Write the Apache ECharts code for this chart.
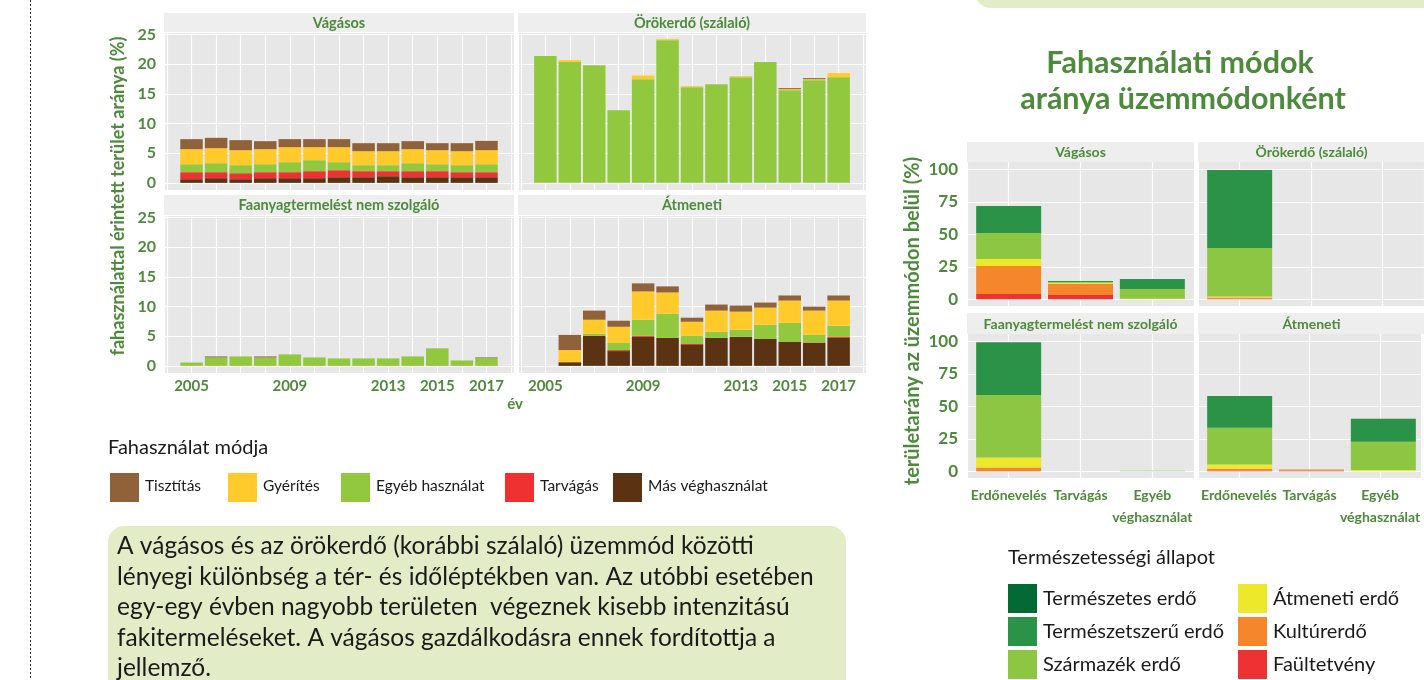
<!DOCTYPE html>
<html>
<head>
    <meta charset="utf-8">
    <title>Fahasználati módok</title>
    <script src="https://cdn.jsdelivr.net/npm/echarts@6/dist/echarts.min.js"></script>
    <style>
        html, body { margin: 0; padding: 0; background: #fff; }
        #chart { width: 1424px; height: 680px; }
    </style>
</head>
<body>
<div id="chart"></div>
<script>
    // ---- bal oldali ábra: fahasználattal érintett terület aránya (%) ----
    var years = [2005, 2006, 2007, 2008, 2009, 2010, 2011, 2012, 2013, 2014, 2015, 2016, 2017];
    var yearTicks = [2005, 2009, 2013, 2015, 2017];
    var panelNames = ['Vágásos', 'Örökerdő (szálaló)', 'Faanyagtermelést nem szolgáló', 'Átmeneti'];
    // rétegek alulról felfelé
    var modeNames = ['Más véghasználat', 'Tarvágás', 'Egyéb használat', 'Gyérítés', 'Tisztítás'];
    var legendOrder = ['Tisztítás', 'Gyérítés', 'Egyéb használat', 'Tarvágás', 'Más véghasználat'];

    var vagasosMas = [0.62, 0.79, 0.62, 0.79, 0.79, 0.79, 0.95, 0.95, 1.12, 0.95, 0.95, 0.95, 0.95];
    var vagasosTarvagas = [1.18, 1.01, 1.01, 1.01, 1.01, 1.18, 1.18, 1.02, 0.85, 1.02, 1.02, 0.85, 0.85];
    var vagasosEgyeb = [1.34, 1.51, 1.35, 1.34, 1.68, 1.85, 1.35, 1.01, 1.01, 1.34, 1.17, 1.18, 1.34];
    var vagasosGyerites = [2.53, 2.53, 2.52, 2.53, 2.53, 2.19, 2.53, 2.35, 2.35, 2.36, 2.36, 2.35, 2.36];
    var vagasosTisztitas = [1.69, 1.74, 1.69, 1.35, 1.35, 1.35, 1.35, 1.35, 1.35, 1.35, 1.18, 1.35, 1.57];

    var orokMas = [0, 0, 0, 0, 0, 0, 0, 0, 0, 0, 0, 0, 0];
    var orokTarvagas = [0, 0, 0, 0, 0, 0, 0, 0, 0, 0, 0, 0, 0];
    var orokEgyeb = [21.34, 20.33, 19.82, 12.24, 17.46, 24.03, 16.11, 16.62, 17.80, 20.33, 15.61, 17.29, 17.80];
    var orokGyerites = [0, 0.33, 0, 0, 0.62, 0.17, 0.17, 0, 0.17, 0, 0.17, 0.17, 0.67];
    var orokTisztitas = [0, 0, 0, 0, 0, 0, 0, 0, 0, 0, 0.17, 0.17, 0];

    var faanyagMas = [0, 0, 0, 0, 0, 0, 0, 0, 0, 0, 0, 0, 0];
    var faanyagTarvagas = [0, 0, 0, 0, 0, 0, 0, 0, 0, 0, 0, 0, 0];
    var faanyagEgyeb = [0.57, 1.42, 1.59, 1.42, 1.93, 1.42, 1.25, 1.25, 1.25, 1.59, 2.95, 0.91, 1.30];
    var faanyagGyerites = [0, 0, 0, 0, 0, 0, 0, 0, 0, 0, 0, 0, 0];
    var faanyagTisztitas = [0, 0.17, 0, 0.17, 0, 0, 0, 0, 0, 0, 0, 0, 0.12];

    var atmenetiMas = [null, 0.62, 5.05, 2.49, 4.88, 4.71, 3.51, 4.71, 4.88, 4.54, 4.02, 3.85, 4.71];
    var atmenetiTarvagas = [null, 0, 0, 0.17, 0.17, 0, 0.17, 0, 0, 0, 0, 0.1, 0.17];
    var atmenetiEgyeb = [null, 0, 0.34, 1.19, 2.72, 4.08, 1.37, 1.02, 1.19, 2.38, 3.24, 1.27, 1.87];
    var atmenetiGyerites = [null, 2.04, 2.38, 2.73, 4.76, 3.57, 2.38, 3.57, 3.06, 2.89, 3.74, 4.08, 4.25];
    var atmenetiTisztitas = [null, 2.55, 1.53, 1.02, 1.36, 1.02, 0.68, 1.02, 1.02, 0.85, 0.85, 0.68, 0.85];

    // ---- jobb oldali ábra: területarány az üzemmódon belül (%) ----
    var useCats = ['Erdőnevelés', 'Tarvágás', 'Egyéb\nvéghasználat'];
    // rétegek alulról felfelé
    var stateNames = ['Faültetvény', 'Kultúrerdő', 'Átmeneti erdő', 'Származék erdő', 'Természetszerű erdő', 'Természetes erdő'];
    var legendStates = ['Természetes erdő', 'Természetszerű erdő', 'Származék erdő', 'Átmeneti erdő', 'Kultúrerdő', 'Faültetvény'];

    var rVagFaultetveny = [4.1, 3.3, 0];
    var rVagKultur = [21.5, 8.5, 0];
    var rVagAtmeneti = [5.4, 0.8, 0.4];
    var rVagSzarmazek = [20.0, 0.7, 7.5];
    var rVagTermszeru = [20.8, 0.8, 7.7];
    var rVagTermeszetes = [0, 0, 0];

    var rOrokFaultetveny = [0.3, 0, 0];
    var rOrokKultur = [1.0, 0, 0];
    var rOrokAtmeneti = [0.8, 0, 0];
    var rOrokSzarmazek = [37.4, 0, 0];
    var rOrokTermszeru = [60.0, 0, 0];
    var rOrokTermeszetes = [0, 0, 0];

    var rFaFaultetveny = [0, 0, 0];
    var rFaKultur = [2.8, 0, 0];
    var rFaAtmeneti = [7.7, 0, 0];
    var rFaSzarmazek = [48.2, 0, 0.4];
    var rFaTermszeru = [40.5, 0, 0];
    var rFaTermeszetes = [0, 0, 0];

    var rAtmFaultetveny = [0.5, 0.3, 0];
    var rAtmKultur = [1.5, 1.0, 0];
    var rAtmAtmeneti = [3.1, 0, 1.0];
    var rAtmSzarmazek = [28.3, 0, 21.7];
    var rAtmTermszeru = [24.5, 0, 17.6];
    var rAtmTermeszetes = [0, 0, 0];

    var leftData = [
        [vagasosMas, vagasosTarvagas, vagasosEgyeb, vagasosGyerites, vagasosTisztitas],
        [orokMas, orokTarvagas, orokEgyeb, orokGyerites, orokTisztitas],
        [faanyagMas, faanyagTarvagas, faanyagEgyeb, faanyagGyerites, faanyagTisztitas],
        [atmenetiMas, atmenetiTarvagas, atmenetiEgyeb, atmenetiGyerites, atmenetiTisztitas]
    ];
    var rightData = [
        [rVagFaultetveny, rVagKultur, rVagAtmeneti, rVagSzarmazek, rVagTermszeru, rVagTermeszetes],
        [rOrokFaultetveny, rOrokKultur, rOrokAtmeneti, rOrokSzarmazek, rOrokTermszeru, rOrokTermeszetes],
        [rFaFaultetveny, rFaKultur, rFaAtmeneti, rFaSzarmazek, rFaTermszeru, rFaTermeszetes],
        [rAtmFaultetveny, rAtmKultur, rAtmAtmeneti, rAtmSzarmazek, rAtmTermszeru, rAtmTermeszetes]
    ];

    // ---- stílus ----
    var green = '#4d8a3b';
    var ink = '#1a1a1a';
    var FONT = 'Lato, "Open Sans", sans-serif';
    var panelBg = '#e6e7e6';
    var stripBg = '#edeeed';
    var gridLine = {show: true, lineStyle: {color: '#ffffff', width: 1.2}};
    var modeColors = {
        'Más véghasználat': '#5c3312',
        'Tarvágás': '#ee3232',
        'Egyéb használat': '#92c83e',
        'Gyérítés': '#ffca2a',
        'Tisztítás': '#8f6239'
    };
    var stateColors = {
        'Faültetvény': '#ee3232',
        'Kultúrerdő': '#f5862b',
        'Átmeneti erdő': '#eee82a',
        'Származék erdő': '#8dc643',
        'Természetszerű erdő': '#2b9348',
        'Természetes erdő': '#046a35'
    };

    // tengelyek kiterjedése (ggplot-szerű ráhagyással)
    var LX_MIN = 2003.88, LX_MAX = 2018.12, LY_MIN = -1.2, LY_MAX = 25.4;
    var RX_MIN = 0.42, RX_MAX = 3.58, RY_MIN = -5.2, RY_MAX = 105.6;

    // panelek helye
    var leftPanels = [
        {x: 164, y: 32, w: 350, h: 158, sy: 13, sh: 19},
        {x: 518, y: 32, w: 348, h: 158, sy: 13, sh: 19},
        {x: 164, y: 215, w: 350, h: 158, sy: 195, sh: 20},
        {x: 518, y: 215, w: 348, h: 158, sy: 195, sh: 20}
    ];
    var rightPanels = [
        {x: 967, y: 162, w: 227, h: 144, sy: 142, sh: 20},
        {x: 1198, y: 162, w: 227, h: 144, sy: 142, sh: 20},
        {x: 967, y: 334, w: 227, h: 144, sy: 313, sh: 21},
        {x: 1198, y: 334, w: 227, h: 144, sy: 313, sh: 21}
    ];

    function txt(text, x, y, size, weight, color, align, vAlign, extra) {
        var el = {
            type: 'text', x: x, y: y, z: 10,
            style: {
                text: text, x: 0, y: 0,
                fontSize: size, fontWeight: weight, fontFamily: FONT, fill: color,
                align: align, textAlign: align,
                verticalAlign: vAlign, textVerticalAlign: vAlign
            }
        };
        if (extra) {
            for (var k in extra) el[k] = extra[k];
        }
        return el;
    }

    var grid = [], xAxis = [], yAxis = [], series = [], graphic = [];

    // egy grid = egy x + egy y tengely, így a tengely indexe megegyezik a grid indexével
    function addGrid(g, xa, ya) {
        var idx = grid.length;
        grid.push(g);
        xa.gridIndex = idx;
        ya.gridIndex = idx;
        xAxis.push(xa);
        yAxis.push(ya);
        return idx;
    }

    // bal oldali panelek
    leftPanels.forEach(function (p, i) {
        // háttér, rácsvonalak, feliratok
        addGrid(
            {left: p.x, top: p.y, width: p.w, height: p.h, show: true, backgroundColor: panelBg, borderWidth: 0},
            {
                type: 'value', min: LX_MIN, max: LX_MAX, splitNumber: 14,
                axisLine: {show: false}, axisTick: {show: false}, splitLine: gridLine,
                axisLabel: {
                    show: i >= 2, margin: 6, color: green, fontSize: 15, fontWeight: 'bold', fontFamily: FONT,
                    formatter: function (v) {
                        var r = Math.round(v);
                        return (Math.abs(v - r) < 1e-6 && yearTicks.indexOf(r) >= 0) ? String(r) : '';
                    }
                }
            },
            {
                type: 'value', min: LY_MIN, max: LY_MAX, splitNumber: 5,
                axisLine: {show: false}, axisTick: {show: false}, splitLine: gridLine,
                axisLabel: {
                    show: i % 2 === 0, margin: 8, color: green, fontSize: 16, fontWeight: 'bold', fontFamily: FONT,
                    formatter: function (v) {
                        return (v >= 0 && Math.abs(v / 5 - Math.round(v / 5)) < 1e-6) ? String(Math.round(v)) : '';
                    }
                }
            }
        );
        // oszlopok
        var ppy = p.w / (LX_MAX - LX_MIN);
        var gb = addGrid(
            {left: p.x + (years[0] - 0.5 - LX_MIN) * ppy, top: p.y, width: years.length * ppy, height: p.h, show: false},
            {type: 'category', data: years.map(String), boundaryGap: true, show: false},
            {type: 'value', min: LY_MIN, max: LY_MAX, show: false}
        );
        modeNames.forEach(function (m, k) {
            series.push({
                name: m, type: 'bar', stack: 'L' + i, xAxisIndex: gb, yAxisIndex: gb,
                barWidth: 22.5, silent: true,
                itemStyle: {color: modeColors[m]},
                data: leftData[i][k]
            });
        });
        graphic.push({type: 'rect', z: 1, shape: {x: p.x, y: p.sy, width: p.w, height: p.sh}, style: {fill: stripBg}});
        graphic.push(txt(panelNames[i], p.x + p.w / 2, p.sy + p.sh / 2 + 0.5, 14.5, 'bold', green, 'center', 'middle'));
    });

    // jobb oldali panelek
    rightPanels.forEach(function (p, i) {
        var ppv = p.h / (RY_MAX - RY_MIN);
        var innerTop = p.y + (RY_MAX - 100) * ppv;
        var innerH = 100 * ppv;
        var ppc = p.w / (RX_MAX - RX_MIN);
        // háttér, függőleges rácsvonalak, kategória feliratok
        addGrid(
            {left: p.x, top: p.y, width: p.w, height: p.h, show: true, backgroundColor: panelBg, borderWidth: 0},
            {
                type: 'value', min: RX_MIN, max: RX_MAX, splitNumber: 3,
                axisLine: {show: false}, axisTick: {show: false}, splitLine: gridLine,
                axisLabel: {
                    show: i >= 2, margin: 6, color: green, fontSize: 14, fontWeight: 'bold', fontFamily: FONT,
                    lineHeight: 22,
                    formatter: function (v) {
                        var r = Math.round(v);
                        return (Math.abs(v - r) < 1e-6 && r >= 1 && r <= 3) ? useCats[r - 1] : '';
                    }
                }
            },
            {type: 'value', min: RY_MIN, max: RY_MAX, show: false}
        );
        // vízszintes rácsvonalak és y feliratok
        addGrid(
            {left: p.x, top: innerTop, width: p.w, height: innerH, show: false},
            {type: 'value', min: RX_MIN, max: RX_MAX, show: false},
            {
                type: 'value', min: 0, max: 100, interval: 25,
                axisLine: {show: false}, axisTick: {show: false}, splitLine: gridLine,
                axisLabel: {show: i % 2 === 0, margin: 9, color: green, fontSize: 17, fontWeight: 'bold', fontFamily: FONT}
            }
        );
        // oszlopok
        var gb = addGrid(
            {left: p.x + (0.5 - RX_MIN) * ppc, top: innerTop, width: useCats.length * ppc, height: innerH, show: false},
            {type: 'category', data: useCats, boundaryGap: true, show: false},
            {type: 'value', min: 0, max: 100, show: false}
        );
        stateNames.forEach(function (s, k) {
            series.push({
                name: s, type: 'bar', stack: 'R' + i, xAxisIndex: gb, yAxisIndex: gb,
                barWidth: 65, silent: true,
                itemStyle: {color: stateColors[s]},
                data: rightData[i][k]
            });
        });
        graphic.push({type: 'rect', z: 1, shape: {x: p.x, y: p.sy, width: p.w, height: p.sh}, style: {fill: stripBg}});
        graphic.push(txt(panelNames[i], p.x + p.w / 2, p.sy + p.sh / 2 + 0.5, 14, 'bold', green, 'center', 'middle'));
    });

    // szaggatott elválasztó vonal
    graphic.push({type: 'line', z: 1, shape: {x1: 30.5, y1: 0, x2: 30.5, y2: 680}, style: {stroke: '#333', lineWidth: 1, lineDash: [2, 2]}});

    // tengelycímek
    graphic.push(txt('fahasználattal érintett terület aránya (%)', 118, 196, 18, 'bold', green, 'center', 'middle', {rotation: Math.PI / 2}));
    graphic.push(txt('területarány az üzemmódon belül (%)', 913, 321, 20, 'bold', green, 'center', 'middle', {rotation: Math.PI / 2}));
    graphic.push(txt('év', 515, 404, 15, 'bold', green, 'center', 'middle'));

    // bal jelmagyarázat
    graphic.push(txt('Fahasználat módja', 108, 448, 20, 'normal', ink, 'left', 'middle'));
    var legX = [110, 228, 341, 505, 613];
    legendOrder.forEach(function (m, k) {
        graphic.push({type: 'rect', z: 1, shape: {x: legX[k], y: 473, width: 29, height: 29}, style: {fill: modeColors[m]}});
        graphic.push(txt(m, legX[k] + 35, 486, 15.5, 'normal', ink, 'left', 'middle'));
    });

    // jobb cím
    graphic.push(txt('Fahasználati módok', 1180, 63, 30.5, 'bold', green, 'center', 'middle'));
    graphic.push(txt('aránya üzemmódonként', 1183, 99, 30.5, 'bold', green, 'center', 'middle'));

    // jobb jelmagyarázat
    graphic.push(txt('Természetességi állapot', 1008, 558, 20, 'normal', ink, 'left', 'middle'));
    legendStates.forEach(function (s, k) {
        var col = Math.floor(k / 3), row = k % 3;
        var sx = col === 0 ? 1008 : 1238;
        var sy = 584 + row * 33;
        graphic.push({type: 'rect', z: 1, shape: {x: sx, y: sy, width: 29, height: 29}, style: {fill: stateColors[s]}});
        graphic.push(txt(s, sx + 35, sy + 14.5, 20, 'normal', ink, 'left', 'middle'));
    });

    // szövegdobozok
    graphic.push({type: 'rect', z: 0, shape: {x: 975, y: -40, width: 470, height: 48, r: 16}, style: {fill: '#e2ecc6'}});
    graphic.push({type: 'rect', z: 0, shape: {x: 108, y: 526, width: 738, height: 180, r: 16}, style: {fill: '#e2ecc6'}});
    graphic.push({
        type: 'text', x: 117, y: 531, z: 10,
        style: {
            text: 'A vágásos és az örökerdő (korábbi szálaló) üzemmód közötti\n' +
                'lényegi különbség a tér- és időléptékben van. Az utóbbi esetében\n' +
                'egy-egy évben nagyobb területen  végeznek kisebb intenzitású\n' +
                'fakitermeléseket. A vágásos gazdálkodásra ennek fordítottja a\n' +
                'jellemző.',
            x: 0, y: 0, fontSize: 24.5, lineHeight: 30.5, fontFamily: FONT, fill: ink,
            align: 'left', textAlign: 'left', verticalAlign: 'top', textVerticalAlign: 'top'
        }
    });

    var myChart = echarts.init(document.getElementById('chart'));
    myChart.setOption({
        animation: false,
        backgroundColor: '#ffffff',
        grid: grid,
        xAxis: xAxis,
        yAxis: yAxis,
        series: series,
        graphic: graphic
    });
</script>
</body>
</html>
